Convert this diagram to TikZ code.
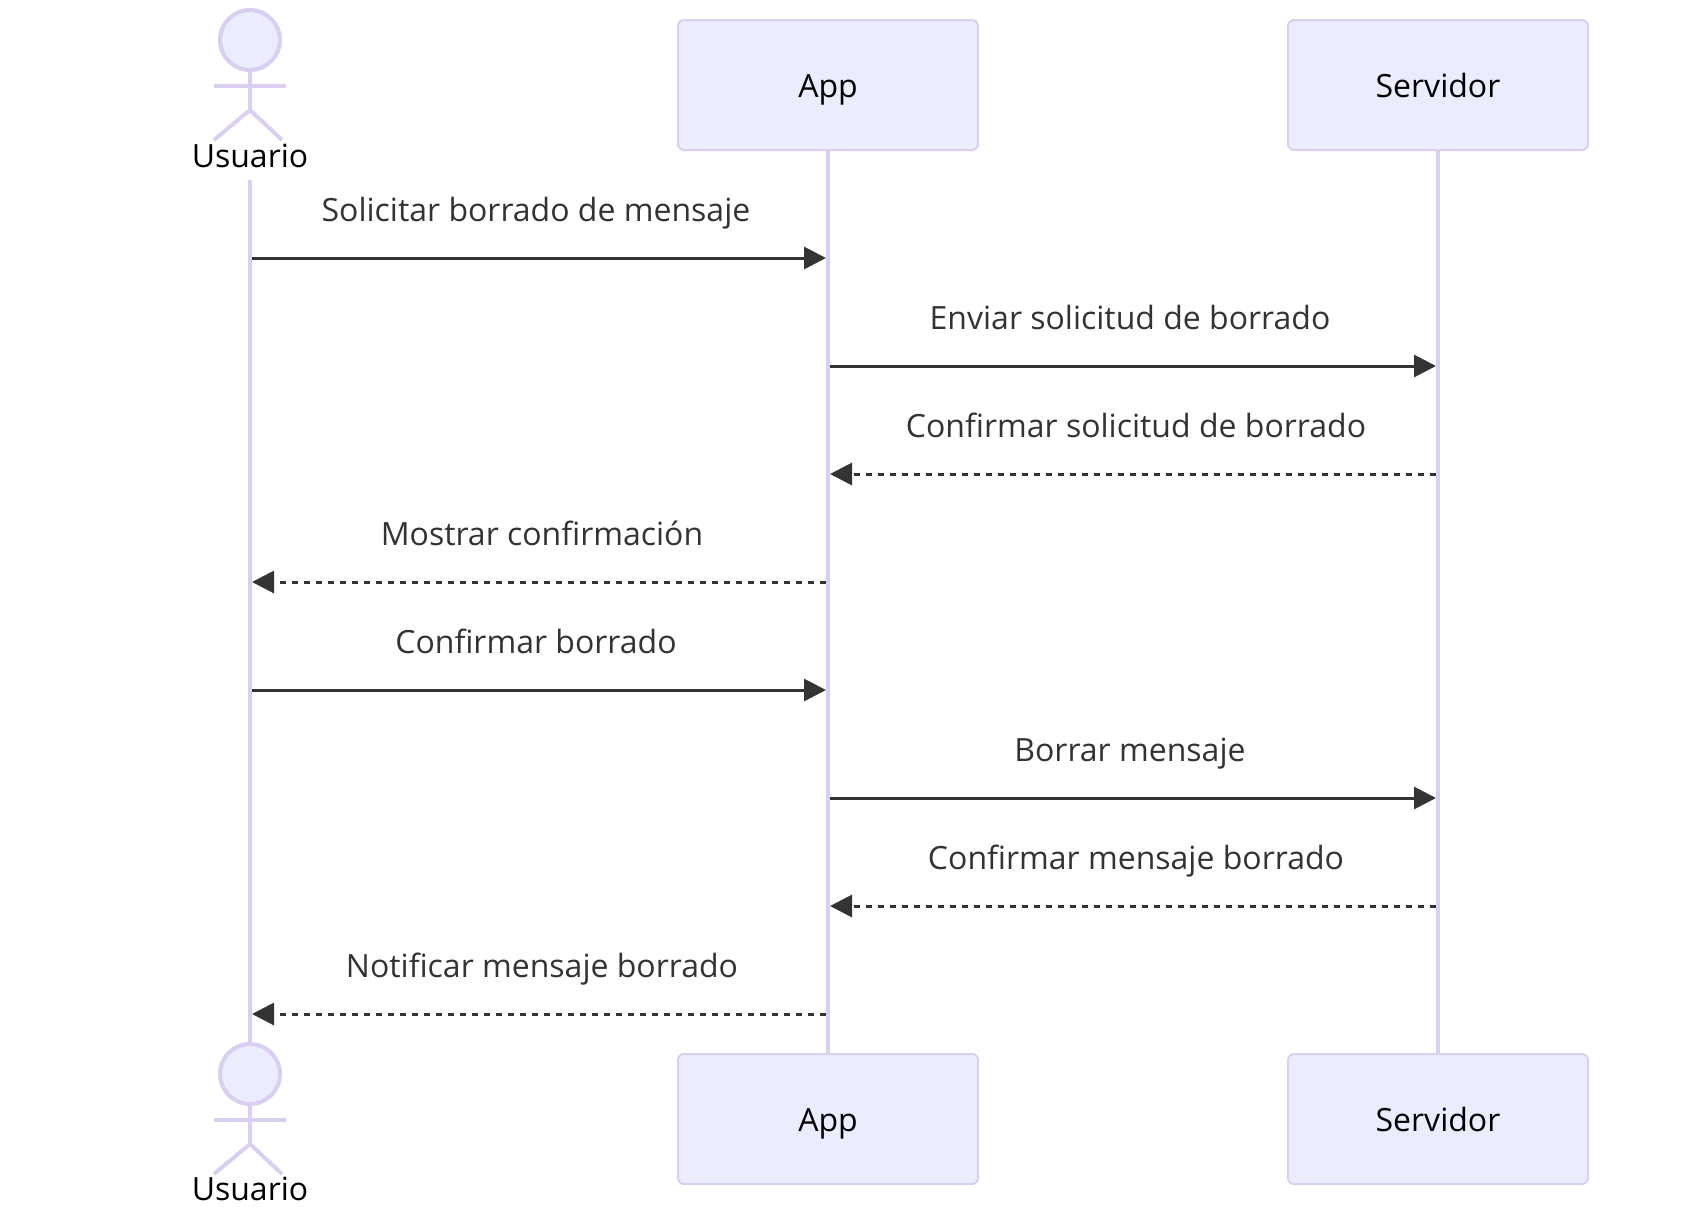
\documentclass[tikz,border=0pt]{standalone}
\usepackage{fontspec}
\setmainfont{Open Sans}
\usetikzlibrary{arrows.meta,positioning}
\definecolor{actorfill}{HTML}{ECECFF}
\definecolor{actorline}{HTML}{DACEF3}
\definecolor{msgcolor}{HTML}{333333}
\tikzset{%
	box/.style = {
		rectangle, draw=actorline, fill=actorfill, line width=1pt,
		rounded corners=3pt, inner sep=0pt,
		minimum width=150pt, minimum height=65pt,
		font=\fontsize{16}{19}\selectfont, text=black,
		text height=14pt, text depth=2pt
	},
	actorname/.style = {
		font=\fontsize{16}{19}\selectfont, text=black, anchor=base, inner sep=0pt
	},
	head/.style = {
		circle, draw=actorline, fill=actorfill, line width=2pt,
		inner sep=0pt, minimum size=30pt
	},
	stick/.style = {
		draw=actorline, line width=2pt
	},
	lifeline/.style = {
		draw=actorline, line width=2pt
	},
	msg/.style = {
		draw=msgcolor, line width=1.5pt,
		-{Triangle[length=11pt,width=11pt,inset=0pt,fill=msgcolor]}
	},
	reply/.style = {
		msg, dash pattern=on 3pt off 3pt
	},
	msgtext/.style = {
		font=\fontsize{16}{19}\selectfont, text=msgcolor, anchor=base, inner sep=0pt
	}
}
\begin{document}
\begin{tikzpicture}[x=0.5pt,y=-0.5pt]
    \useasboundingbox (0,0) rectangle (1688,1206);

    % Actors at the top
    \node (usuarioHead)  [head] at (250,40) {};
    \node (usuarioName)  [actorname] at (250,167) {Usuario};
    \node (appTop)       [box] at (828,85) {App};
    \node (servTop)      [box] at (1438,85) {Servidor};

    % Actors at the bottom
    \node (usuarioHeadB) [head] at (250,1074) {};
    \node (usuarioNameB) [actorname] at (250,1200) {Usuario};
    \node (appBot)       [box] at (828,1119) {App};
    \node (servBot)      [box] at (1438,1119) {Servidor};

    % Stick figures
    \coordinate (hipT) at (250,110);
    \coordinate (hipB) at (250,1144);
    \draw[stick] (usuarioHead) -- (hipT);
    \draw[stick] (214,86) -- (286,86);
    \draw[stick] (214,140) -- (hipT) -- (282,140);
    \draw[stick] (usuarioHeadB) -- (hipB);
    \draw[stick] (214,1120) -- (286,1120);
    \draw[stick] (214,1174) -- (hipB) -- (282,1174);

    % Lifelines
    \coordinate (usuarioLine) at (250,180);
    \draw[lifeline] (usuarioLine) -- (usuarioHeadB);
    \draw[lifeline] (appTop) -- (appBot);
    \draw[lifeline] (servTop) -- (servBot);

    % Ends of the messages
    \coordinate (u1) at (252,258);   \coordinate (a1) at (826,258);
    \coordinate (a2) at (830,366);   \coordinate (s2) at (1436,366);
    \coordinate (s3) at (1436,474);  \coordinate (a3) at (830,474);
    \coordinate (a4) at (826,582);   \coordinate (u4) at (252,582);
    \coordinate (u5) at (252,690);   \coordinate (a5) at (826,690);
    \coordinate (a6) at (830,798);   \coordinate (s6) at (1436,798);
    \coordinate (s7) at (1436,906);  \coordinate (a7) at (830,906);
    \coordinate (a8) at (826,1014);  \coordinate (u8) at (252,1014);

    \draw[msg]   (u1) -- (a1);
    \draw[msg]   (a2) -- (s2);
    \draw[reply] (s3) -- (a3);
    \draw[reply] (a4) -- (u4);
    \draw[msg]   (u5) -- (a5);
    \draw[msg]   (a6) -- (s6);
    \draw[reply] (s7) -- (a7);
    \draw[reply] (a8) -- (u8);

    % Message texts
    \node (t1) [msgtext] at (536,221)  {Solicitar borrado de mensaje};
    \node (t2) [msgtext] at (1130,329) {Enviar solicitud de borrado};
    \node (t3) [msgtext] at (1136,437) {Confirmar solicitud de borrado};
    \node (t4) [msgtext] at (542,545)  {Mostrar confirmación};
    \node (t5) [msgtext] at (536,653)  {Confirmar borrado};
    \node (t6) [msgtext] at (1130,761) {Borrar mensaje};
    \node (t7) [msgtext] at (1136,869) {Confirmar mensaje borrado};
    \node (t8) [msgtext] at (542,977)  {Notificar mensaje borrado};
\end{tikzpicture}
\end{document}
